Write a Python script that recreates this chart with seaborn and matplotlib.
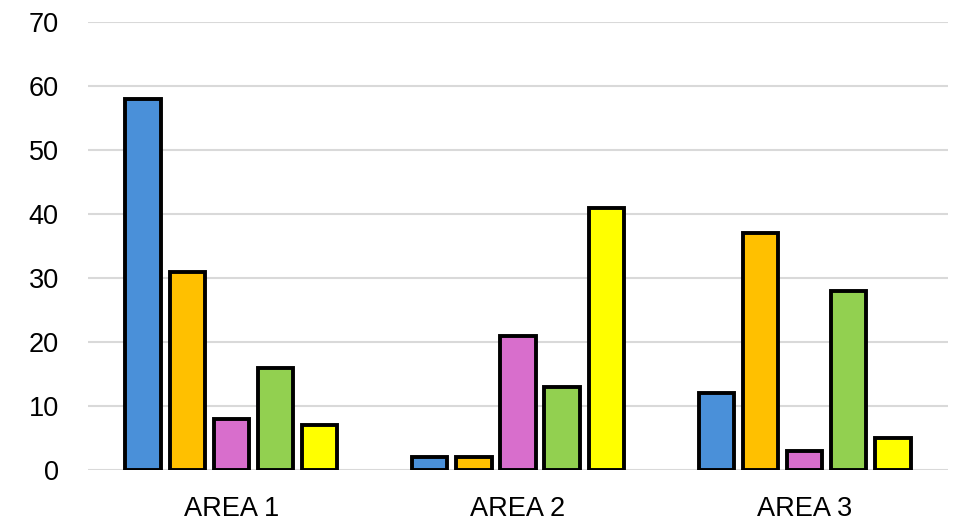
import matplotlib
matplotlib.use("Agg")
import matplotlib.pyplot as plt
import seaborn as sns
import pandas as pd

areas = ["AREA 1", "AREA 2", "AREA 3"]
series = ["S1", "S2", "S3", "S4", "S5"]
s1 = [58, 2, 12]
s2 = [31, 2, 37]
s3 = [8, 21, 3]
s4 = [16, 13, 28]
s5 = [7, 41, 5]
colors = ["#4A90D9", "#FFC000", "#D86ECC", "#92D050", "#FFFF00"]
yticks = [0, 10, 20, 30, 40, 50, 60, 70]

rows = []
for name, vals in zip(series, [s1, s2, s3, s4, s5]):
    for a, v in zip(areas, vals):
        rows.append({"area": a, "series": name, "value": v})
df = pd.DataFrame(rows)

sns.set_style("white")
plt.rcParams["font.family"] = ["Liberation Sans", "DejaVu Sans"]

fig = plt.figure(figsize=(9.62, 5.24), dpi=100)
ax = fig.add_axes([88/962, 54/524, 860/962, 448/524])
sns.barplot(data=df, x="area", y="value", hue="series", palette=colors,
            saturation=1, width=0.77, gap=0.2, edgecolor="black", linewidth=2.8,
            legend=False, ax=ax, zorder=3)
ax.set_ylim(0, 70)
ax.set_xlim(-0.5, 2.5)
ax.set_yticks(yticks)
ax.yaxis.grid(True, color="#D9D9D9", linewidth=1.5, zorder=0)
ax.set_axisbelow(True)
for s in ax.spines.values():
    s.set_visible(False)
ax.set_xlabel("")
ax.set_ylabel("")
ax.tick_params(axis="both", labelsize=19.5, length=0, labelcolor="black")
ax.tick_params(axis="y", pad=21)
ax.tick_params(axis="x", pad=19)
fig.savefig("out.png", dpi=100)
